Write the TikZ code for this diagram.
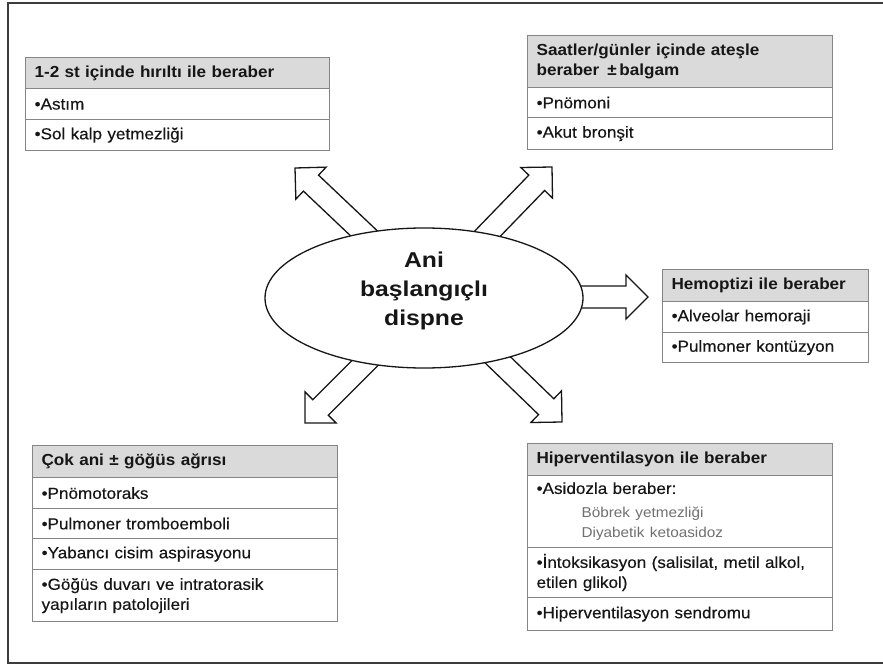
\documentclass[tikz,border=0pt]{standalone}
\usepackage{fontspec}
\setmainfont[FakeStretch=1.07, UprightFeatures={FakeBold=0.3}]{Liberation Sans}
\newfontfamily\ellfont[FakeStretch=1.15]{Liberation Sans}
\newfontfamily\subfont[FakeStretch=1.07]{Liberation Sans}
\usetikzlibrary{shapes.geometric,calc}
\definecolor{boxgray}{HTML}{858585}
\definecolor{hdrgray}{HTML}{DADADA}
\definecolor{ink}{HTML}{161616}
\definecolor{subgray}{HTML}{707070}
\definecolor{framegray}{HTML}{3C3C3C}
\newcommand{\fatarrow}[2]{%
  \coordinate (fa-h) at ($(#2)!22pt!(#1)$);
  \draw[fatarr] ($(#1)!11pt!90:(#2)$) -- ($(fa-h)!11pt!-90:(#1)$) -- ($(fa-h)!22pt!-90:(#1)$) -- (#2)
    -- ($(fa-h)!22pt!90:(#1)$) -- ($(fa-h)!11pt!90:(#1)$) -- ($(#1)!11pt!-90:(#2)$) -- cycle;
}
\newcommand{\subf}{\color{subgray}\subfont\fontsize{14.3}{17}\selectfont\hspace*{45pt}}
\tikzset{
  fatarr/.style={draw=ink, line width=1.3pt, fill=white, line join=miter},
  rowbox/.style={draw=boxgray, line width=1.2pt, fill=white, anchor=north west,
    inner xsep=9pt, inner ysep=0pt, align=left, text=ink,
    font=\fontsize{16}{20}\selectfont},
  hdrbox/.style={rowbox, fill=hdrgray, font=\bfseries\fontsize{16}{20}\selectfont},
}
\begin{document}
\begin{tikzpicture}[x=1pt,y=-1pt]
\useasboundingbox[fill=white] (0,0) rectangle (883,668);
% frame
\draw[framegray, line width=2pt] (884,3) -- (8,3) -- (8,663) -- (884,663);

% arrows (start inside the ellipse, tips free)
\coordinate (s1) at (390,258); \coordinate (t1) at (295,168);
\coordinate (s2) at (462,260); \coordinate (t2) at (552,167);
\coordinate (s3) at (550,297); \coordinate (t3) at (648,297);
\coordinate (s4) at (392,336); \coordinate (t4) at (305,423);
\coordinate (s5) at (470,333); \coordinate (t5) at (562,422);
\fatarrow{s1}{t1}
\fatarrow{s2}{t2}
\fatarrow{s3}{t3}
\fatarrow{s4}{t4}
\fatarrow{s5}{t5}

% central ellipse
\node[ellipse, draw=ink, line width=1.3pt, fill=white, minimum width=318pt,
  minimum height=140pt, inner sep=0pt] (c) at (424,298) {};
\node[font=\ellfont\bfseries\fontsize{21.5}{29}\selectfont, align=center, text=ink]
  (ctext) at (424,291) {Ani\\başlangıçlı\\dispne};

% box 1
\node[hdrbox, text width=286pt, minimum height=31pt] (b1h) at (25,57) {1-2 st içinde hırıltı ile beraber};
\node[rowbox, text width=286pt, minimum height=31pt] (b1a) at (25,88) {•Astım};
\node[rowbox, text width=286pt, minimum height=31pt] (b1b) at (25,119) {•Sol kalp yetmezliği};

% box 2
\node[hdrbox, text width=287pt, minimum height=52pt] (b2h) at (527,35) {Saatler/günler içinde ateşle\\beraber \,±\,balgam};
\node[rowbox, text width=287pt, minimum height=30pt] (b2a) at (527,87) {•Pnömoni};
\node[rowbox, text width=287pt, minimum height=32pt] (b2b) at (527,117) {•Akut bronşit};

% box 3
\node[hdrbox, text width=188pt, minimum height=32pt] (b3h) at (662,269) {Hemoptizi ile beraber};
\node[rowbox, text width=188pt, minimum height=31pt] (b3a) at (662,301) {•Alveolar hemoraji};
\node[rowbox, text width=188pt, minimum height=30pt] (b3b) at (662,332) {•Pulmoner kontüzyon};

% box 4
\node[hdrbox, text width=287pt, minimum height=32pt] (b4h) at (32,445) {Çok ani ± göğüs ağrısı};
\node[rowbox, text width=287pt, minimum height=31pt] (b4a) at (32,477) {•Pnömotoraks};
\node[rowbox, text width=287pt, minimum height=30pt] (b4b) at (32,508) {•Pulmoner tromboemboli};
\node[rowbox, text width=287pt, minimum height=31pt] (b4c) at (32,538) {•Yabancı cisim aspirasyonu};
\node[rowbox, text width=287pt, minimum height=52pt] (b4d) at (32,569) {•Göğüs duvarı ve intratorasik\\yapıların patolojileri};

% box 5
\node[hdrbox, text width=287pt, minimum height=32pt] (b5h) at (527,443) {Hiperventilasyon ile beraber};
\node[rowbox, text width=287pt, minimum height=72pt] (b5a) at (527,475)
  {•Asidozla beraber:\\[7pt]\subf Böbrek yetmezliği\\\subf Diyabetik ketoasidoz};
\node[rowbox, text width=287pt, minimum height=50pt] (b5b) at (527,547) {•İntoksikasyon (salisilat, metil alkol,\\etilen glikol)};
\node[rowbox, text width=287pt, minimum height=33pt] (b5c) at (527,597) {•Hiperventilasyon sendromu};
\end{tikzpicture}
\end{document}
